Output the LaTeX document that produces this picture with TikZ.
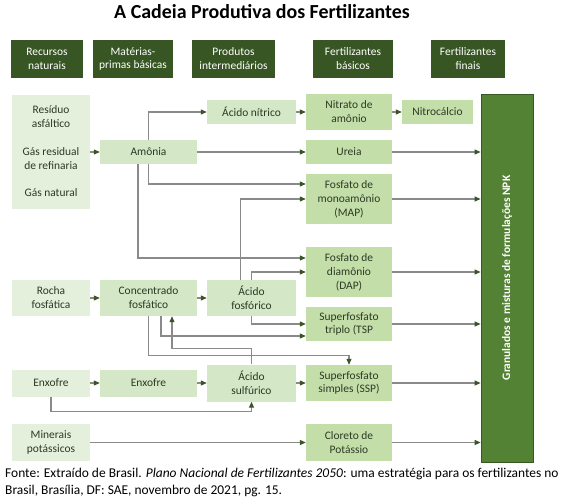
\documentclass[tikz,border=0pt]{standalone}
\usepackage{fontspec}
\setmainfont{Carlito}
\usepackage{tikz}
\usetikzlibrary{arrows.meta, calc}
\definecolor{fHead}{HTML}{375623}
\definecolor{fBar}{HTML}{548235}
\definecolor{fBarEdge}{HTML}{385723}
\definecolor{fPale}{HTML}{E4EFDC}
\definecolor{fLight}{HTML}{D4E7C6}
\definecolor{fMid}{HTML}{C4DEAA}
\definecolor{fText}{HTML}{2C3A24}
\definecolor{fLine}{HTML}{8A8A8A}
\definecolor{fTip}{HTML}{3B5528}

\begin{document}
\begin{tikzpicture}[x=1bp, y=-1bp,
  every node/.style={font=\fontsize{11.5}{14}\selectfont, align=center, inner sep=0pt},
  head/.style={fill=fHead, text=white, minimum height=38bp},
  box/.style={text=fText},
  col1/.style={box, fill=fPale, minimum width=78bp},
  col2/.style={box, fill=fLight, minimum width=97bp},
  col3/.style={box, fill=fLight, minimum width=89bp},
  col4/.style={box, fill=fMid, minimum width=86bp},
  link/.style={draw=fLine, line width=1.1bp, -{Triangle[length=6bp, width=5bp, color=fTip]}}]
  \useasboundingbox[fill=white] (0,0) rectangle (564,498);
  % title
  \node[font=\fontsize{20}{24}\selectfont\bfseries] (title) at (262,12) {A Cadeia Produtiva dos Fertilizantes};
  % headers
  \node[head, minimum width=72bp] (rec) at (47,59) {Recursos\\naturais};
  \node[head, minimum width=80bp] (mat) at (133,59) {Matérias-\\primas básicas};
  \node[head, minimum width=83bp] (prod) at (233.5,59) {Produtos\\intermediários};
  \node[head, minimum width=80bp] (fbas) at (353,59) {Fertilizantes\\básicos};
  \node[head, minimum width=74bp] (ffin) at (468,59) {Fertilizantes\\finais};
  % natural resources
  \node[col1, minimum height=114bp] (gas) at (51,152) {};
  \node[text=fText] at (51,116.5) {Resíduo\\asfáltico};
  \node[text=fText] at (51,159) {Gás residual\\de refinaria};
  \node[text=fText] at (51,193) {Gás natural};
  \node[col1, minimum height=36bp] (rocha) at (51,298) {Rocha\\fosfática};
  \node[col1, minimum height=27bp] (enx1) at (51,383) {Enxofre};
  \node[col1, minimum height=37bp] (miner) at (51,442.5) {Minerais\\potássicos};
  % raw materials
  \node[col2, minimum height=24bp] (amonia) at (148.5,152) {Amônia};
  \node[col2, minimum height=36bp] (conc) at (148.5,298) {Concentrado\\fosfático};
  \node[col2, minimum height=27bp] (enx2) at (148.5,383) {Enxofre};
  % intermediates
  \node[col3, minimum height=24bp] (nitrico) at (251.5,112) {Ácido nítrico};
  \node[col3, minimum height=36bp] (fosforico) at (251.5,298) {Ácido\\fosfórico};
  \node[col3, minimum height=37bp] (sulfurico) at (251.5,383) {Ácido\\sulfúrico};
  % basic fertilizers
  \node[col4, minimum height=36bp] (nitrato) at (349,112) {Nitrato de\\amônio};
  \node[col4, minimum height=24bp] (ureia) at (349,152) {Ureia};
  \node[col4, minimum height=50bp] (map) at (349,199) {Fosfato de\\monoamônio\\(MAP)};
  \node[col4, minimum height=50bp] (dap) at (349,272) {Fosfato de\\diamônio\\(DAP)};
  \node[col4, minimum height=34bp] (tsp) at (349,324) {Superfosfato\\triplo (TSP};
  \node[col4, minimum height=36bp] (ssp) at (349,383) {Superfosfato\\simples (SSP)};
  \node[col4, minimum height=37bp] (kcl) at (349,442.5) {Cloreto de\\Potássio};
  \node[col4, minimum width=71bp, minimum height=24bp] (nitrocalcio) at (437.5,112) {Nitrocálcio};
  % final fertilizers
  \node[fill=fBar, draw=fBarEdge, line width=0.8bp, minimum width=52bp, minimum height=368bp] (npk) at (507,278) {};
  \node[rotate=90, text=white, font=\fontsize{11.5}{14}\selectfont\bfseries] at (npk) {Granulados e misturas de formulações NPK};
  % straight links
  \draw[link] (gas.east) -- (amonia.west);
  \draw[link] (rocha) -- (conc);
  \draw[link] (conc) -- (fosforico);
  \draw[link] (enx1) -- (enx2);
  \draw[link] (enx2) -- (sulfurico);
  \draw[link] (sulfurico) -- (ssp);
  \draw[link] (nitrico) -- (nitrato);
  \draw[link] (nitrato) -- (nitrocalcio);
  \draw[link] (amonia) -- (ureia);
  \draw[link] (miner) -- (kcl);
  % routed links
  \draw[link] (amonia.north) |- (nitrico.west);
  \draw[link] (amonia.south) |- ($(map.west)+(0,-15)$);
  \draw[link] ($(amonia.south)+(-10.5,0)$) |- ($(dap.west)+(0,-14)$);
  \draw[link] ($(fosforico.north)+(-11,0)$) |- (map.west);
  \draw[link] (fosforico.north) |- (dap.west);
  \draw[link] (fosforico.south) |- (tsp.west);
  \draw[link] ($(conc.south)+(12.5,0)$) |- ($(tsp.west)+(0,12)$);
  \draw[link] (conc.south) |- ($(ssp.north)+(0,-9)$) -- (ssp.north);
  \draw[link] (sulfurico.north) -- ++(0,-16) -| ($(conc.south)+(23.5,0)$);
  \draw[link] (enx1.south) -- ++(0,15) -| (sulfurico.south);
  % into the final box
  \draw[link] (ureia.east) -- (ureia.east -| npk.west);
  \draw[link] (map.east) -- (map.east -| npk.west);
  \draw[link] (dap.east) -- (dap.east -| npk.west);
  \draw[link] (tsp.east) -- (tsp.east -| npk.west);
  \draw[link] (ssp.east) -- (ssp.east -| npk.west);
  \draw[link] (kcl.east) -- (kcl.east -| npk.west);
  % source
  \node[anchor=north west, align=left, font=\fontsize{13.5}{17}\selectfont] (fonte) at (5,468) {Fonte: Extraído de Brasil. \textit{Plano Nacional de Fertilizantes 2050}: uma estratégia para os fertilizantes no\\Brasil, Brasília, DF: SAE, novembro de 2021, pg. 15.};
\end{tikzpicture}
\end{document}
